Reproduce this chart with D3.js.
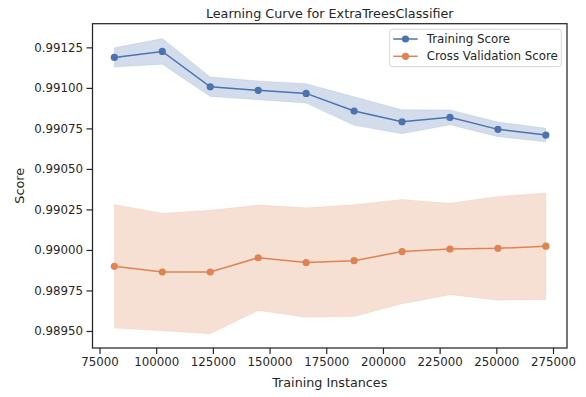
<!DOCTYPE html>
<html>
<head>
<meta charset="utf-8">
<script src="https://cdn.jsdelivr.net/npm/d3@7"></script>
<style>
  html, body { margin: 0; padding: 0; background: #fff; }
  svg { display: block; font-family: "DejaVu Sans", sans-serif; }
</style>
</head>
<body>
<svg id="chart" width="586" height="397"></svg>
<script>
// Training set sizes used for the learning curve
const trainSizes = [81555, 102699, 123843, 144987, 166131, 187275, 208419, 229563, 250707, 271850];

// Mean and standard deviation of the training score
const trainMean = [0.991188, 0.991225, 0.991007, 0.990985, 0.990966, 0.990857, 0.990791, 0.990818, 0.990744, 0.990709];
const trainStd  = [0.000059, 0.000079, 0.000060, 0.000058, 0.000060, 0.000088, 0.000074, 0.000046, 0.000045, 0.000042];

// Mean and standard deviation of the cross validation score
const cvMean = [0.989899, 0.989864, 0.989864, 0.989952, 0.989922, 0.989934, 0.989990, 0.990006, 0.990010, 0.990023];
const cvStd  = [0.000381, 0.000363, 0.000381, 0.000325, 0.000338, 0.000345, 0.000322, 0.000282, 0.000320, 0.000328];

// Axis ticks
const xTicks = [75000, 100000, 125000, 150000, 175000, 200000, 225000, 250000, 275000];
const yTicks = [0.98950, 0.98975, 0.99000, 0.99025, 0.99050, 0.99075, 0.99100, 0.99125];

const series = [
  { name: "Training Score", mean: trainMean, std: trainStd, color: "#4C72B0" },
  { name: "Cross Validation Score", mean: cvMean, std: cvStd, color: "#DD8452" }
];

const svg = d3.select("#chart");
const plot = { left: 92.5, top: 23.7, right: 567, bottom: 348 };

const x = d3.scaleLinear().domain([71914, 281170]).range([plot.left, plot.right]);
const y = d3.scaleLinear().domain([0.989395, 0.991396]).range([plot.bottom, plot.top]);

const textColor = "#262626";
const fontSize = 11.8;
const labelSize = 12.75;

// Bands (mean ± std)
series.forEach(s => {
  const area = d3.area()
    .x((d, i) => x(trainSizes[i]))
    .y0((d, i) => y(s.mean[i] - s.std[i]))
    .y1((d, i) => y(s.mean[i] + s.std[i]));
  svg.append("path")
    .datum(s.mean)
    .attr("d", area)
    .attr("fill", s.color)
    .attr("fill-opacity", 0.25)
    .attr("stroke", s.color)
    .attr("stroke-opacity", 0.12)
    .attr("stroke-width", 1);
});

// Lines and markers
series.forEach(s => {
  const line = d3.line()
    .x((d, i) => x(trainSizes[i]))
    .y(d => y(d));
  svg.append("path")
    .datum(s.mean)
    .attr("d", line)
    .attr("fill", "none")
    .attr("stroke", s.color)
    .attr("stroke-width", 1.5);
  svg.append("g")
    .selectAll("circle")
    .data(s.mean)
    .join("circle")
    .attr("cx", (d, i) => x(trainSizes[i]))
    .attr("cy", d => y(d))
    .attr("r", 3.6)
    .attr("fill", s.color);
});

// Axes
const xAxis = d3.axisBottom(x).tickValues(xTicks).tickFormat(d3.format("d")).tickSize(6).tickPadding(4);
const yAxis = d3.axisLeft(y).tickValues(yTicks).tickFormat(d3.format(".5f")).tickSize(6).tickPadding(3.5);

const gx = svg.append("g").attr("transform", `translate(0,${plot.bottom})`).call(xAxis);
const gy = svg.append("g").attr("transform", `translate(${plot.left},0)`).call(yAxis);

[gx, gy].forEach(g => {
  g.select(".domain").remove();
  g.selectAll(".tick line").attr("stroke", textColor).attr("stroke-width", 1.2);
  g.selectAll(".tick text")
    .attr("fill", textColor)
    .style("font-size", fontSize + "px")
    .style("font-family", "DejaVu Sans, sans-serif");
});

// Frame
svg.append("rect")
  .attr("x", plot.left)
  .attr("y", plot.top)
  .attr("width", plot.right - plot.left)
  .attr("height", plot.bottom - plot.top)
  .attr("fill", "none")
  .attr("stroke", textColor)
  .attr("stroke-width", 1.25);

// Title and axis labels
svg.append("text")
  .attr("x", (plot.left + plot.right) / 2)
  .attr("y", 18)
  .attr("text-anchor", "middle")
  .attr("fill", textColor)
  .style("font-size", labelSize + "px")
  .text("Learning Curve for ExtraTreesClassifier");

svg.append("text")
  .attr("x", (plot.left + plot.right) / 2)
  .attr("y", 387)
  .attr("text-anchor", "middle")
  .attr("fill", textColor)
  .style("font-size", labelSize + "px")
  .text("Training Instances");

svg.append("text")
  .attr("transform", `translate(24,${(plot.top + plot.bottom) / 2}) rotate(-90)`)
  .attr("text-anchor", "middle")
  .attr("fill", textColor)
  .style("font-size", labelSize + "px")
  .text("Score");

// Legend
const legend = svg.append("g").attr("transform", "translate(389.7,29.3)");
legend.append("rect")
  .attr("width", 171.6)
  .attr("height", 37.4)
  .attr("rx", 2.5)
  .attr("fill", "#fff")
  .attr("fill-opacity", 0.8)
  .attr("stroke", "#d6d6d6")
  .attr("stroke-width", 1);

series.forEach((s, i) => {
  const row = legend.append("g").attr("transform", `translate(0,${9.7 + i * 17.3})`);
  row.append("line")
    .attr("x1", 3.5).attr("x2", 28)
    .attr("stroke", s.color).attr("stroke-width", 1.5);
  row.append("circle")
    .attr("cx", 15.8).attr("r", 3.6).attr("fill", s.color);
  row.append("text")
    .attr("x", 37)
    .attr("dy", "0.35em")
    .attr("fill", textColor)
    .style("font-size", fontSize + "px")
    .text(s.name);
});
</script>
</body>
</html>
